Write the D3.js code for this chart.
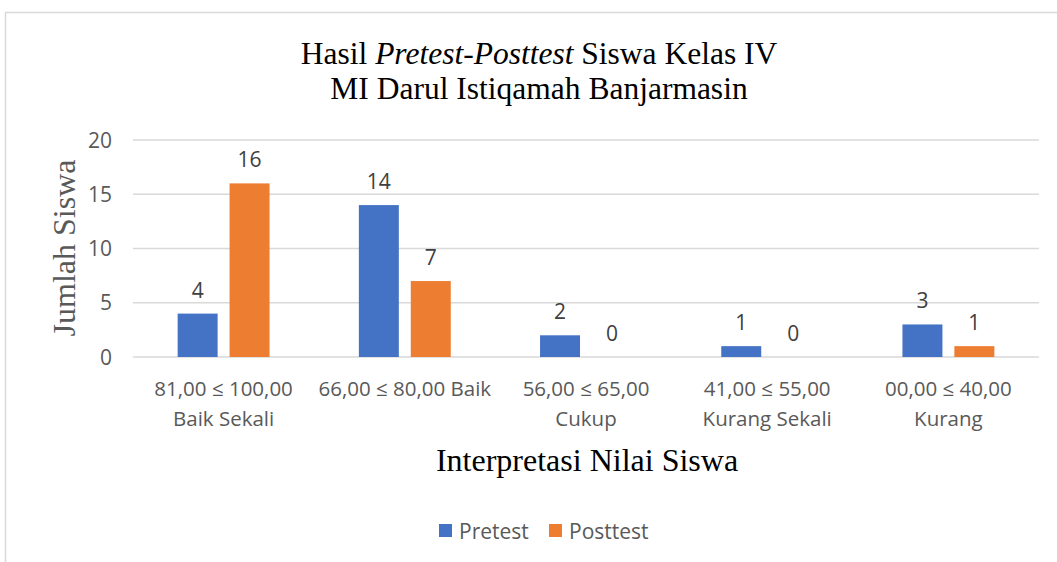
<!DOCTYPE html>
<html>
<head>
<meta charset="utf-8">
<script src="https://cdn.jsdelivr.net/npm/d3@7"></script>
<style>
	body { margin: 0; background: #fff; }
	svg text { font-family: "Open Sans", sans-serif; }
	.serif { font-family: "Liberation Serif", "Times New Roman", serif; }
</style>
</head>
<body>
<div id="chart"></div>
<script>
let categories	= [["81,00 ≤ 100,00", "Baik Sekali"], ["66,00 ≤ 80,00 Baik"], ["56,00 ≤ 65,00", "Cukup"], ["41,00 ≤ 55,00", "Kurang Sekali"], ["00,00 ≤ 40,00", "Kurang"]];
let seriesNames	= ["Pretest", "Posttest"];
let pretest		= [4, 14, 2, 1, 3];
let posttest	= [16, 7, 0, 0, 1];
let yTicks		= [0, 5, 10, 15, 20];
let colors		= ["#4472C4", "#ED7D31"];

function createChart() {
	let canvasWidth		= 1057;
	let canvasHeight	= 562;
	let margin			= { top: 140, right: 18, bottom: 205, left: 133 };
	let width			= canvasWidth - margin.left - margin.right;
	let height			= canvasHeight - margin.top - margin.bottom;

	let svg = d3.select("#chart").append("svg")
		.attr("width", canvasWidth)
		.attr("height", canvasHeight);

	// chart area border (cropped at right / bottom)
	svg.append("rect")
		.attr("x", 5.5).attr("y", 12.5)
		.attr("width", 1200).attr("height", 700)
		.attr("fill", "none")
		.attr("stroke", "#d9d9d9")
		.attr("stroke-width", 1.5);

	let g = svg.append("g")
		.attr("transform", "translate(" + margin.left + "," + margin.top + ")");

	let labels	= categories.map((c) => c.join(" "));
	let x0 = d3.scaleBand().domain(labels).range([0, width]);
	let x1 = d3.scaleBand().domain(seriesNames).range([0, x0.bandwidth()])
		.paddingInner(0.23).paddingOuter(0.86);
	let y = d3.scaleLinear().domain([0, 20]).range([height, 0]);

	// gridlines
	g.selectAll("line.grid")
		.data(yTicks)
			.enter().append("line")
			.attr("class", "grid")
			.attr("x1", 0).attr("x2", width)
			.attr("y1", (d) => y(d)).attr("y2", (d) => y(d))
			.attr("stroke", "#d9d9d9")
			.attr("stroke-width", 1.3);

	// y tick labels
	g.selectAll("text.ytick")
		.data(yTicks)
			.enter().append("text")
			.attr("class", "ytick")
			.attr("x", -21)
			.attr("y", (d) => y(d))
			.attr("dy", "0.36em")
			.attr("text-anchor", "end")
			.attr("fill", "#595959")
			.style("font-size", "21px")
			.text((d) => d);

	let series = [pretest, posttest];
	let rows = [];
	series.forEach((vals, si) => {
		vals.forEach((v, ci) => rows.push({ s: seriesNames[si], si: si, cat: labels[ci], v: v }));
	});

	g.selectAll("rect.bar")
		.data(rows)
			.enter().append("rect")
			.attr("class", "bar")
			.attr("x", (d) => x0(d.cat) + x1(d.s))
			.attr("y", (d) => y(d.v))
			.attr("width", x1.bandwidth())
			.attr("height", (d) => height - y(d.v))
			.attr("fill", (d) => colors[d.si]);

	g.selectAll("text.val")
		.data(rows)
			.enter().append("text")
			.attr("class", "val")
			.attr("x", (d) => x0(d.cat) + x1(d.s) + x1.bandwidth() / 2)
			.attr("y", (d) => y(d.v) - 16)
			.attr("text-anchor", "middle")
			.attr("fill", "#404040")
			.style("font-size", "21px")
			.text((d) => d.v);

	// category labels
	let cat = g.selectAll("text.cat")
		.data(categories)
			.enter().append("text")
			.attr("class", "cat")
			.attr("text-anchor", "middle")
			.attr("fill", "#595959")
			.style("font-size", "20.5px")
			.attr("transform", (d, i) => "translate(" + (x0(labels[i]) + x0.bandwidth() / 2) + "," + (height + 39) + ")");
	cat.selectAll("tspan")
		.data((d) => d)
			.enter().append("tspan")
			.attr("x", 0)
			.attr("dy", (d, i) => i ? 30 : 0)
			.text((d) => d);

	// titles
	let title = svg.append("text")
		.attr("class", "serif")
		.attr("text-anchor", "middle")
		.attr("fill", "#000")
		.style("font-size", "31.5px")
		.attr("transform", "translate(539,64)");
	title.append("tspan").text("Hasil ");
	title.append("tspan").style("font-style", "italic").text("Pretest-Posttest");
	title.append("tspan").text(" Siswa Kelas IV");

	svg.append("text")
		.attr("class", "serif")
		.attr("text-anchor", "middle")
		.style("font-size", "31.5px")
		.attr("transform", "translate(539,99)")
		.text("MI Darul Istiqamah Banjarmasin");

	svg.append("text")
		.attr("class", "serif")
		.attr("text-anchor", "middle")
		.attr("fill", "#595959")
		.style("font-size", "32px")
		.attr("transform", "translate(75,248) rotate(-90)")
		.text("Jumlah Siswa");

	svg.append("text")
		.attr("class", "serif")
		.attr("text-anchor", "middle")
		.style("font-size", "32px")
		.attr("transform", "translate(587,471)")
		.text("Interpretasi Nilai Siswa");

	// legend
	let legend = svg.append("g").attr("transform", "translate(439,524)");
	let lx = [0, 110];
	let item = legend.selectAll("g")
		.data(seriesNames)
			.enter().append("g")
			.attr("transform", (d, i) => "translate(" + lx[i] + ",0)");
	item.append("rect")
		.attr("width", 13).attr("height", 13)
		.attr("fill", (d, i) => colors[i]);
	item.append("text")
		.attr("x", 20).attr("y", 7)
		.attr("dy", "0.36em")
		.attr("fill", "#595959")
		.style("font-size", "21px")
		.text((d) => d);
}

createChart();
</script>
</body>
</html>
